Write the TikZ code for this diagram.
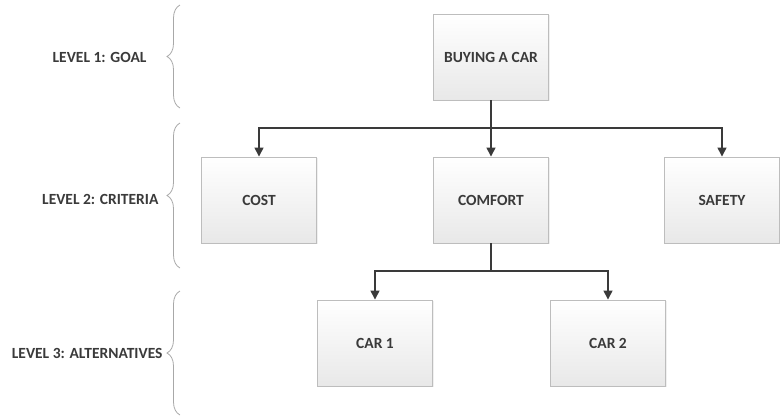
\documentclass[tikz,border=0pt]{standalone}
\usepackage{fontspec}
\setmainfont{Carlito}
\usetikzlibrary{arrows.meta,decorations.pathreplacing,shadows}

\definecolor{ink}{HTML}{3A3A3A}
\definecolor{rim}{HTML}{BDBDBD}
\definecolor{brc}{HTML}{A8A8A8}

\tikzset{
    box/.style={draw=rim, line width=0.9pt, top color=white, bottom color=black!9,
        minimum width=115pt, minimum height=86pt, text=ink,
        font=\bfseries\fontsize{15.5}{18}\selectfont,
        drop shadow={opacity=0.12, shadow xshift=1pt, shadow yshift=-1pt}},
    link/.style={draw=ink, line width=1.4pt, -{Triangle[width=9pt,length=9pt]}},
    lvl/.style={anchor=east, text=ink, font=\bfseries\fontsize{15.5}{18}\selectfont},
    curly/.style={draw=brc, line width=0.8pt, decorate, decoration={brace, amplitude=13pt}},
}

\begin{document}
\begin{tikzpicture}[x=1pt, y=-1pt]
    \useasboundingbox (0,0) rectangle (780,416);
    % levels
    \node[lvl] (goal level) at (150,57) {LEVEL 1: GOAL};
    \node[lvl] (criteria level) at (162,199) {LEVEL 2: CRITERIA};
    \node[lvl] (alt level) at (166,353) {LEVEL 3: ALTERNATIVES};
    \draw[curly] (180,108) -- (180,5);
    \draw[curly] (180,268) -- (180,123);
    \draw[curly] (180,415) -- (180,291);
    % hierarchy
    \node[box] (goal) at (491,57) {BUYING A CAR};
    \node[box] (cost) at (259,200) {COST};
    \node[box] (comfort) at (491,200) {COMFORT};
    \node[box] (safety) at (722,200) {SAFETY};
    \node[box] (car1) at (375,343) {CAR 1};
    \node[box] (car2) at (608,343) {CAR 2};
    \coordinate (split) at (491,128);
    \coordinate (fork) at (491,271);
    \draw[link] (goal) -- (comfort);
    \draw[link] (split) -| (cost);
    \draw[link] (split) -| (safety);
    \draw[draw=ink, line width=1.4pt] (comfort) -- (fork);
    \draw[link] (fork) -| (car1);
    \draw[link] (fork) -| (car2);
\end{tikzpicture}
\end{document}
